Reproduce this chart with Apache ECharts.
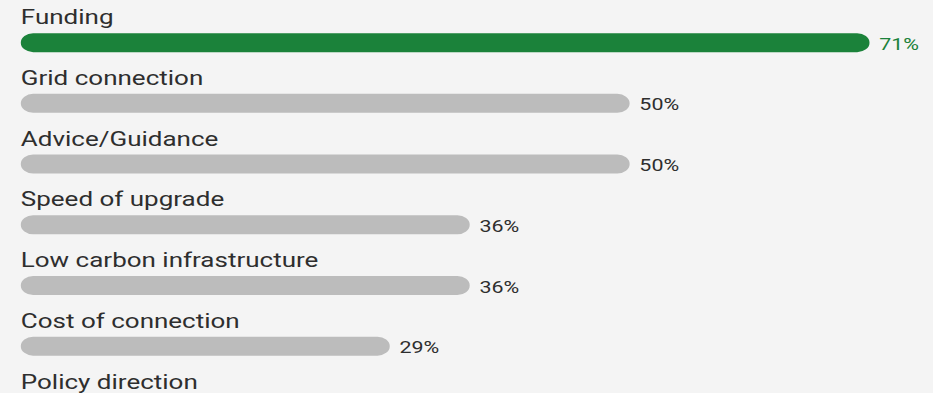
<!DOCTYPE html>
<html>
<head>
<meta charset="utf-8">
<script src="https://cdn.jsdelivr.net/npm/echarts@6/dist/echarts.min.js"></script>
<style>
  html, body { margin: 0; padding: 0; background: #f4f4f4; overflow: hidden; height: 393px; }
  #chart {
    width: 718px; height: 460px;
    transform: scaleX(1.3); transform-origin: 0 0;
  }
</style>
</head>
<body>
<div id="chart"></div>
<script>
// Share of responses naming each barrier (%); the last row continues below the fold
const categories = [
  'Funding',
  'Grid connection',
  'Advice/Guidance',
  'Speed of upgrade',
  'Low carbon infrastructure',
  'Cost of connection',
  'Policy direction'
];
const shares = [71, 50, 50, 36, 36, 29, null];

const highlightColor = '#1b823a';
const barColor = '#bcbcbc';
const textColor = '#2e2e2e';

const chart = echarts.init(document.getElementById('chart'), null, { renderer: 'svg' });

chart.setOption({
  backgroundColor: '#f4f4f4',
  animation: false,
  grid: { left: 16, top: 12.3, width: 688, height: 424.9 },
  xAxis: {
    type: 'value', min: -3.3, max: 75,
    show: false
  },
  yAxis: {
    type: 'category', data: categories, inverse: true,
    show: false
  },
  series: [
    {
      // category titles above each bar
      type: 'custom',
      encode: { x: 0, y: 1 },
      data: categories.map((c, i) => [0, i]),
      renderItem: function (params, api) {
        const idx = api.value(1);
        const pt = api.coord([0, idx]);
        return {
          type: 'text',
          style: {
            text: categories[idx], x: params.coordSys.x, y: pt[1] - 25.2,
            align: 'left', verticalAlign: 'middle',
            font: '20px Roboto', fill: textColor
          }
        };
      }
    },
    {
      // rounded bars with value labels
      type: 'custom',
      encode: { x: 0, y: 1 },
      data: shares.map((v, i) => [v == null ? '-' : v, i]),
      renderItem: function (params, api) {
        const v = api.value(0);
        const idx = api.value(1);
        if (isNaN(v)) return { type: 'group', children: [] };
        const end = api.coord([v, idx]);
        const x0 = params.coordSys.x;
        const y = end[1];
        const barH = 19;
        const first = idx === 0;
        return {
          type: 'group',
          children: [
            {
              type: 'rect',
              shape: { x: x0, y: y - barH / 2, width: end[0] - x0, height: barH, r: barH / 2 },
              style: { fill: first ? highlightColor : barColor }
            },
            {
              type: 'text',
              style: {
                text: v + '%', x: end[0] + 7.5, y: y + 1.5,
                align: 'left', verticalAlign: 'middle',
                font: '16.5px Roboto', fill: first ? highlightColor : textColor
              }
            }
          ]
        };
      }
    }
  ]
});
</script>
</body>
</html>
